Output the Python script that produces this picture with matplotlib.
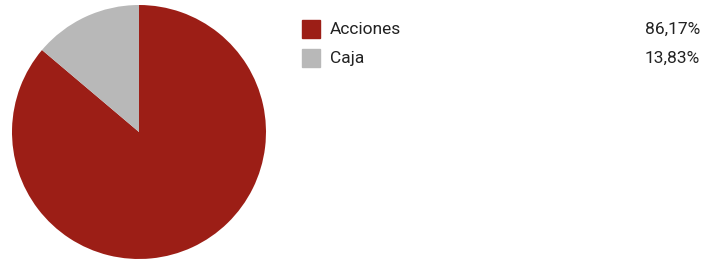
import matplotlib.pyplot as plt
from matplotlib.patches import Rectangle

labels = ["Acciones", "Caja"]
values = [86.17, 13.83]
colors = ["#9c1e16", "#b8b8b8"]

W, H = 720, 262
plt.rcParams['font.family'] = ['Roboto', 'DejaVu Sans']

fig = plt.figure(figsize=(W / 100, H / 100), dpi=100)

# pie centred at (139, 132) px, radius 127 px
cx, cy, r = 139, 132, 127
ax = fig.add_axes([(cx - r) / W, (H - cy - r) / H, 2 * r / W, 2 * r / H])
ax.pie(values, colors=colors, startangle=90, counterclock=False,
       wedgeprops=dict(linewidth=0))
ax.set_xlim(-1, 1)
ax.set_ylim(-1, 1)
ax.set_aspect('equal')
ax.axis('off')

# legend
for i, (lab, val, col) in enumerate(zip(labels, values, colors)):
    y = 29 + i * 29
    fig.patches.append(Rectangle((302 / W, (H - y - 9) / H), 18 / W, 18 / H,
                                 transform=fig.transFigure, color=col))
    fig.text(330 / W, (H - y) / H, lab, fontsize=12.5, color="#222222",
             va='center', ha='left')
    pct = f"{val:.2f}%".replace('.', ',')
    fig.text(700 / W, (H - y) / H, pct, fontsize=12.5, color="#222222",
             va='center', ha='right')

fig.savefig("out.png", dpi=100)
